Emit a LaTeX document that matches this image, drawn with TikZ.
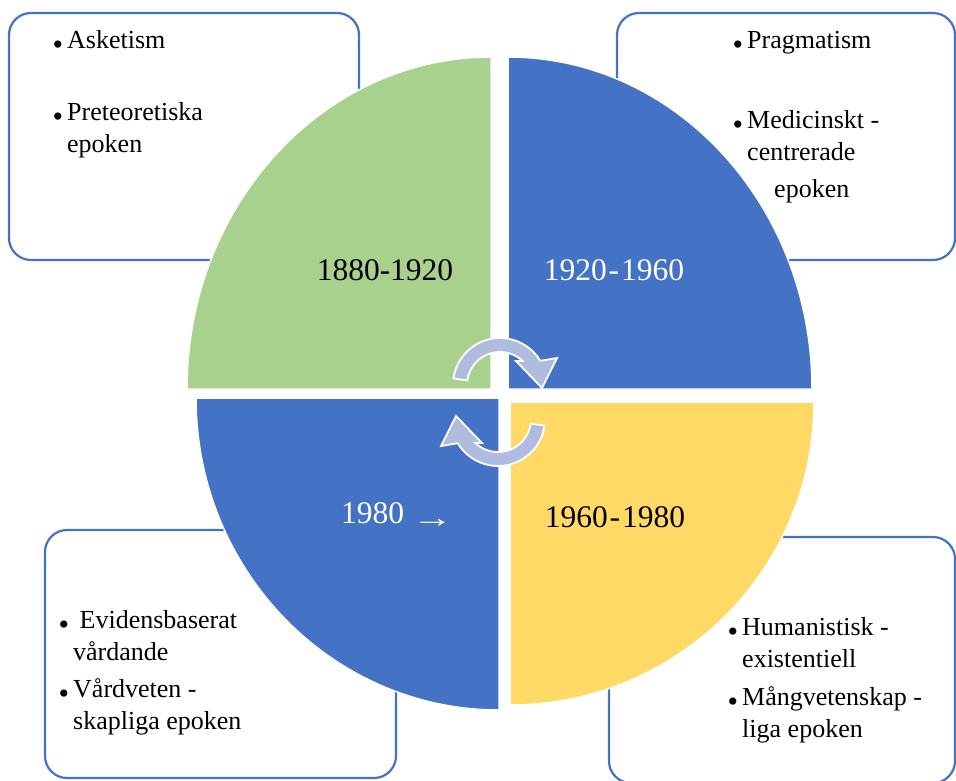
\documentclass[tikz,border=0pt]{standalone}
\usepackage{graphicx}
\usepackage{fontspec}
\setmainfont{Liberation Serif}
\definecolor{frameblue}{HTML}{4472C4}
\definecolor{quadgreen}{HTML}{A9D18E}
\definecolor{quadblue}{HTML}{4472C4}
\definecolor{quadyellow}{HTML}{FFD966}
\definecolor{cyclefill}{RGB}{176,188,222}
\newcommand\itemfont{\fontsize{26}{32}\selectfont}
\newcommand\yearfont{\fontsize{31.5}{36}\selectfont}
\newcommand\bul{\llap{\raisebox{-6pt}{\fontsize{30}{30}\selectfont •}\hspace{4pt}}}
\newcommand\lines[1]{\begin{tabular}[t]{@{}l@{}}#1\end{tabular}}

\begin{document}
\begin{tikzpicture}[x=1pt, y=-1pt,
  frame/.style={draw=frameblue, line width=2.2pt, rounded corners=22pt, fill=white},
  quad/.style={draw=white, line width=1.5pt},
  cyc/.style={fill=cyclefill, draw=white, line width=1.8pt, line join=miter},
  item/.style={anchor=base west, inner sep=0pt, font=\itemfont, text=black},
  year/.style={inner sep=0pt, font=\yearfont}]
\useasboundingbox (0,0) rectangle (956,780);

% text frames behind the circle
\draw[frame] (9,13) rectangle (359,260);
\draw[frame] (617,13) rectangle (955,260);
\draw[frame] (45,530) rectangle (396,778);
\draw[frame] (609,537) rectangle (955,783);

% the four quarters of the circle
\path[quad, fill=quadgreen] (491,389) -- (187,389)
  arc[start angle=180, end angle=270, x radius=304, y radius=332] -- cycle;
\path[quad, fill=quadblue] (508,389) -- (812,389)
  arc[start angle=0, end angle=-90, x radius=304, y radius=332] -- cycle;
\path[quad, fill=quadblue] (499,398) -- (196,398)
  arc[start angle=180, end angle=90, x radius=303, y radius=312] -- cycle;
\path[quad, fill=quadyellow] (510,402) -- (814,402)
  arc[start angle=0, end angle=90, x radius=304, y radius=303] -- cycle;

% circular arrows in the middle
\begin{scope}[shift={(500,385)}]
\path[cyc] (188:47) arc[start angle=188, end angle=329, radius=47]
  -- (57,-27) -- (42,3) -- (16,-24) -- (313:33)
  arc[start angle=313, end angle=188, radius=33] -- cycle;
\end{scope}
\begin{scope}[shift={(498,419)}, rotate=180]
\path[cyc] (188:47) arc[start angle=188, end angle=329, radius=47]
  -- (57,-27) -- (42,3) -- (16,-24) -- (313:33)
  arc[start angle=313, end angle=188, radius=33] -- cycle;
\end{scope}

% period labels
\node[year, anchor=base, text=black] (p1) at (385,280) {1880-1920};
\node[year, anchor=base, text=white] (p2) at (614,280) {1920\kern2pt-\kern2pt1960};
\node[year, anchor=base west, text=white] (p3) at (341,523) {1980\hspace{8pt}\raisebox{-4pt}{\scalebox{1.3}[0.9]{→}}};
\node[year, anchor=base, text=black] (p4) at (615,527) {1960\kern2pt-\kern2pt1980};

% bullet lists
\node[item] (a1) at (67,48) {\lines{\bul Asketism}};
\node[item] (a2) at (67,120) {\lines{\bul Preteoretiska\\epoken}};

\node[item] (b1) at (747,48) {\lines{\bul Pragmatism}};
\node[item] (b2) at (747,128) {\lines{\bul Medicinskt -\\centrerade\\[5pt]\hspace*{27pt}epoken}};

\node[item] (c1) at (73,628) {\lines{\bul\ Evidensbaserat\\vårdande}};
\node[item] (c2) at (73,697) {\lines{\bul Vårdveten -\\skapliga epoken}};

\node[item] (d1) at (742,635) {\lines{\bul Humanistisk -\\existentiell}};
\node[item] (d2) at (742,705) {\lines{\bul Mångvetenskap -\\liga epoken}};
\end{tikzpicture}
\end{document}
